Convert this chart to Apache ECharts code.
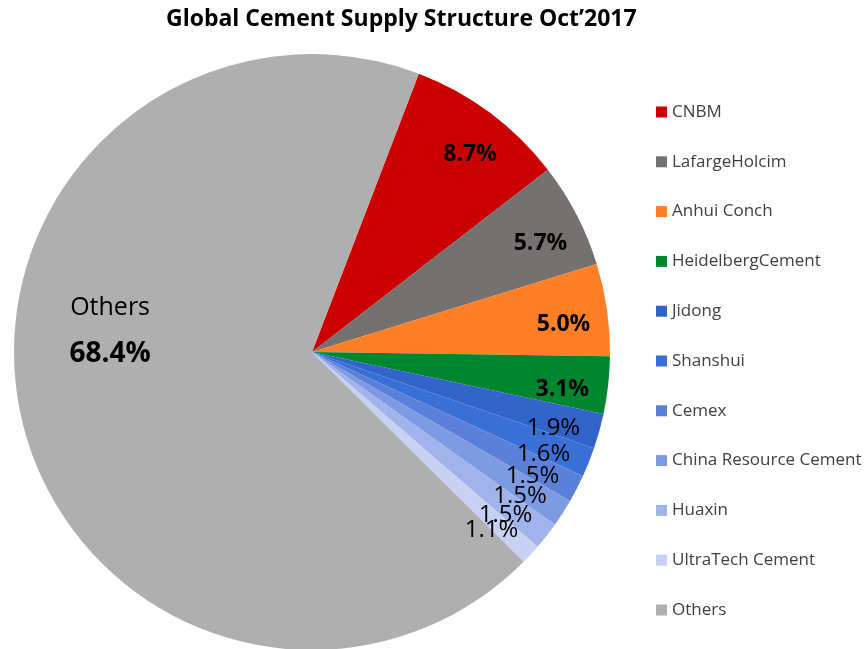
<!DOCTYPE html>
<html>
<head>
<meta charset="utf-8">
<script src="https://cdn.jsdelivr.net/npm/echarts@6/dist/echarts.min.js"></script>
<style>
html,body{margin:0;padding:0;background:#fff;}
#chart{width:864px;height:649px;}
</style>
</head>
<body>
<div id="chart"></div>
<script>
// ---- data ----
const categories = ['CNBM', 'LafargeHolcim', 'Anhui Conch', 'HeidelbergCement', 'Jidong', 'Shanshui', 'Cemex', 'China Resource Cement', 'Huaxin', 'UltraTech Cement', 'Others'];
const shares = [8.7, 5.7, 5.0, 3.1, 1.9, 1.6, 1.5, 1.5, 1.5, 1.1, 68.4];
const titleText = 'Global Cement Supply Structure Oct\u20192017';

// ---- styles ----
const palette = ['#CC0000', '#767171', '#FF7F27', '#00862F', '#3163C8', '#3A70D6', '#5B80DA', '#7E9AE3', '#A0B3EB', '#C6D1F3', '#AFAFAF'];
const boldCount = 4;
const FONT = 'Open Sans';

const chart = echarts.init(document.getElementById('chart'), null, {renderer: 'canvas'});

const mainData = categories.map((name, i) => ({
  name, value: shares[i], itemStyle: {color: palette[i]}
}));

const ringData = categories.map((name, i) => ({
  name, value: shares[i],
  label: {
    show: name !== 'Others',
    fontWeight: i < boldCount ? 'bold' : 'normal',
    fontSize: i < boldCount ? 23 : 24
  }
}));

const othersData = categories.map((name, i) => ({
  name, value: shares[i],
  label: {show: name === 'Others'}
}));

const pct = v => v.toFixed(1) + '%';

const option = {
  backgroundColor: '#ffffff',
  animation: false,
  title: {
    text: titleText,
    left: 166, top: 8, padding: 0,
    textStyle: {fontFamily: FONT, fontWeight: 'bold', fontSize: 23, color: '#000'}
  },
  legend: {
    orient: 'vertical',
    left: 656, top: 102, padding: 0,
    icon: 'rect', itemWidth: 11, itemHeight: 11,
    itemGap: 29.8,
    data: categories,
    textStyle: {fontFamily: FONT, fontSize: 17, color: '#404040', lineHeight: 20}
  },
  series: [
    {
      name: 'main', type: 'pie',
      center: [312, 352], radius: [0, 298],
      startAngle: 69, clockwise: true,
      label: {show: false}, labelLine: {show: false},
      emphasis: {disabled: true},
      data: mainData
    },
    {
      name: 'labels', type: 'pie', silent: true, legendHoverLink: false,
      center: [312, 352], radius: [200, 300],
      startAngle: 67, clockwise: true,
      avoidLabelOverlap: false,
      labelLayout: {hideOverlap: false},
      itemStyle: {color: 'rgba(0,0,0,0)'},
      label: {position: 'inside', color: '#000', fontFamily: FONT,
              formatter: p => pct(p.value)},
      labelLine: {show: false},
      emphasis: {disabled: true},
      data: ringData
    },
    {
      name: 'othersLabel', type: 'pie', silent: true, legendHoverLink: false,
      center: [312, 352], radius: [150, 250],
      startAngle: 50.9, clockwise: true,
      avoidLabelOverlap: false,
      itemStyle: {color: 'rgba(0,0,0,0)'},
      label: {position: 'inside', fontFamily: FONT,
              formatter: p => '{a|' + p.name + '}\n{b|' + pct(p.value) + '}',
              rich: {
                a: {fontFamily: FONT, fontSize: 25, color: '#000', lineHeight: 46},
                b: {fontFamily: FONT, fontSize: 28, fontWeight: 'bold', color: '#000', lineHeight: 46}
              }},
      labelLine: {show: false},
      emphasis: {disabled: true},
      data: othersData
    }
  ]
};
chart.setOption(option);
</script>
</body>
</html>
